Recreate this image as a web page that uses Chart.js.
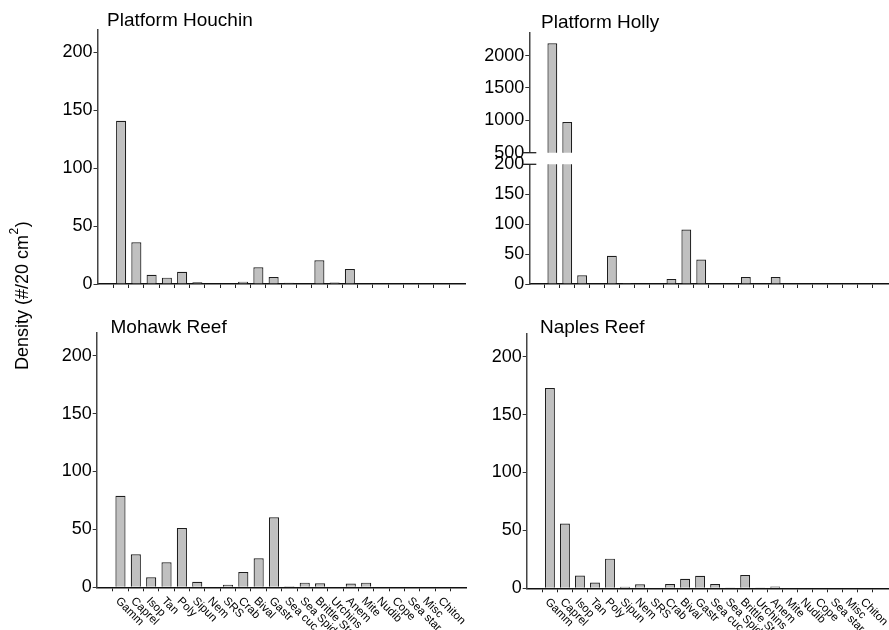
<!DOCTYPE html>
<html>
<head>
<meta charset="utf-8">
<script src="https://cdn.jsdelivr.net/npm/chart.js@4/dist/chart.umd.min.js"></script>
<style>
    body {margin: 0; background: #fff;}
    #wrap {position: relative; width: 889px; height: 630px; overflow: hidden;}
    canvas {position: absolute; left: 0; top: 0;}
</style>
</head>
<body>
<div id="wrap">
    <canvas id="houchin" width="889" height="630"></canvas>
    <canvas id="holly-top" width="889" height="630"></canvas>
    <canvas id="holly-low" width="889" height="630"></canvas>
    <canvas id="mohawk" width="889" height="630"></canvas>
    <canvas id="naples" width="889" height="630"></canvas>
</div>
<script>
// taxa on the x axis
const categories = ['Gamm', 'Caprel', 'Isop', 'Tan', 'Poly', 'Sipun', 'Nem', 'SRS', 'Crab', 'Bival', 'Gastr',
    'Sea cuc', 'Sea Spider', 'Brittle Star', 'Urchins', 'Anem', 'Mite', 'Nudib', 'Cope', 'Sea star', 'Misc', 'Chiton'];

// density (#/20 cm2) per site
const houchin = [141, 36, 8, 5.5, 10.5, 1.5, 0, 0, 2, 14.5, 6, 1, 0, 20.5, 1.2, 13, 0, 0, 0, 0, 0, 0];
const holly = [2190, 974, 14.5, 0, 47, 1.5, 0, 0, 8.5, 91, 41, 0, 0, 11.5, 0, 11.5, 0, 0, 0, 0, 0, 0];
const mohawk = [79, 28.5, 8.6, 21.6, 51.2, 4.8, 0, 2.3, 13.2, 25, 60.4, 1, 4, 3.5, 0, 3.3, 4, 0, 0, 0, 0, 0];
const naples = [173, 56, 11, 5, 25.6, 1.4, 3.4, 0, 3.7, 8.3, 10.9, 3.7, 0.6, 11.5, 0.6, 1.5, 0, 0, 0, 0, 0, 0];

// y tick labels
const yTicks = [0, 50, 100, 150, 200];
const yTicksHollyTop = [500, 1000, 1500, 2000];

const FONT = '"Liberation Sans", Arial, sans-serif';
const Y_W = 60; // room kept for the y tick labels

function decor(p) {
    return {
        id: 'decor',
        afterDraw(chart) {
            const ctx = chart.ctx;
            const area = chart.chartArea;
            ctx.save();
            ctx.fillStyle = '#000';
            if (p.title) {
                ctx.font = '19px ' + FONT;
                ctx.textAlign = 'left';
                ctx.textBaseline = 'alphabetic';
                ctx.fillText(p.title, p.titleX, p.titleY);
            }
            if (p.xLabels) {
                const xs = chart.scales.x;
                ctx.font = '11.5px ' + FONT;
                ctx.textAlign = 'left';
                ctx.textBaseline = 'middle';
                xs.ticks.forEach(t => {
                    ctx.save();
                    ctx.translate(xs.getPixelForValue(t.value) - 3, area.bottom + 12);
                    ctx.rotate(Math.PI / 4);
                    ctx.fillText(categories[t.value], 0, 0);
                    ctx.restore();
                });
            }
            if (p.cap) {
                // break marks on the Holly y axis
                const y = p.cap === 'bottom' ? area.bottom : area.top;
                ctx.strokeStyle = '#222';
                ctx.lineWidth = 1.3;
                ctx.beginPath();
                ctx.moveTo(area.left - 7, y);
                ctx.lineTo(area.left + 7, y);
                ctx.stroke();
            }
            if (p.yTitle) {
                ctx.translate(28, 370);
                ctx.rotate(-Math.PI / 2);
                ctx.textAlign = 'left';
                ctx.textBaseline = 'alphabetic';
                ctx.font = '18px ' + FONT;
                const main = 'Density (#/20 cm';
                const w = ctx.measureText(main).width;
                ctx.fillText(main, 0, 0);
                ctx.font = '12px ' + FONT;
                ctx.fillText('2', w + 0.5, -10);
                const w2 = ctx.measureText('2').width;
                ctx.font = '18px ' + FONT;
                ctx.fillText(')', w + w2 + 1, 0);
            }
            ctx.restore();
        }
    };
}

function panel(id, values, b) {
    const ctx = document.getElementById(id).getContext('2d');
    return new Chart(ctx, {
        type: 'bar',
        data: {
            datasets: [{
                data: values.map((v, i) => ({x: i, y: v})),
                backgroundColor: '#c0c0c0',
                borderColor: '#1e1e1e',
                borderWidth: 1.2,
                barPercentage: 0.66,
                categoryPercentage: 1,
                clip: 0
            }]
        },
        options: {
            responsive: false,
            animation: false,
            events: [],
            layout: {padding: {left: b.left - Y_W, top: b.top, right: 889 - b.right, bottom: 630 - b.bottom}},
            plugins: {legend: {display: false}, tooltip: {enabled: false}},
            scales: {
                x: {
                    type: 'linear',
                    display: b.showX,
                    min: -1,
                    max: 22,
                    afterBuildTicks: s => { s.ticks = categories.map((c, i) => ({value: i})); },
                    afterFit: s => { s.height = 0; },
                    grid: {drawOnChartArea: false, drawTicks: true, tickLength: 4, color: '#222', tickWidth: 1},
                    border: {display: true, color: '#111', width: 1.5},
                    ticks: {display: false}
                },
                y: {
                    min: b.yMin,
                    max: b.yMax,
                    afterBuildTicks: s => { s.ticks = b.ticks.map(v => ({value: v})); },
                    afterFit: s => { s.width = Y_W; },
                    grid: {drawOnChartArea: false, drawTicks: true, tickLength: 4, color: '#333', tickWidth: 1},
                    border: {display: true, color: '#444', width: 1.5},
                    ticks: {color: '#000', padding: 1, font: {family: FONT, size: 18}, callback: v => String(v)}
                }
            }
        },
        plugins: [decor(b)]
    });
}

panel('houchin', houchin, {
    left: 97.5, top: 29.3, right: 465, bottom: 284, yMin: 0, yMax: 220, ticks: yTicks, showX: true,
    title: 'Platform Houchin', titleX: 107, titleY: 25.5, yTitle: true
});
panel('holly-top', holly, {
    left: 529.3, top: 33, right: 888, bottom: 152.7, yMin: 500, yMax: 2350, ticks: yTicksHollyTop, showX: false,
    title: 'Platform Holly', titleX: 541, titleY: 27.5, cap: 'bottom'
});
panel('holly-low', holly, {
    left: 529.3, top: 164.3, right: 888, bottom: 284, yMin: 0, yMax: 200, ticks: yTicks, showX: true,
    cap: 'top'
});
panel('mohawk', mohawk, {
    left: 96.7, top: 332.5, right: 466.7, bottom: 587.3, yMin: 0, yMax: 220, ticks: yTicks, showX: true,
    title: 'Mohawk Reef', titleX: 110.5, titleY: 332.5, xLabels: true
});
panel('naples', naples, {
    left: 526.7, top: 333.5, right: 888.5, bottom: 588.3, yMin: 0, yMax: 220, ticks: yTicks, showX: true,
    title: 'Naples Reef', titleX: 540, titleY: 333, xLabels: true
});
</script>
</body>
</html>
